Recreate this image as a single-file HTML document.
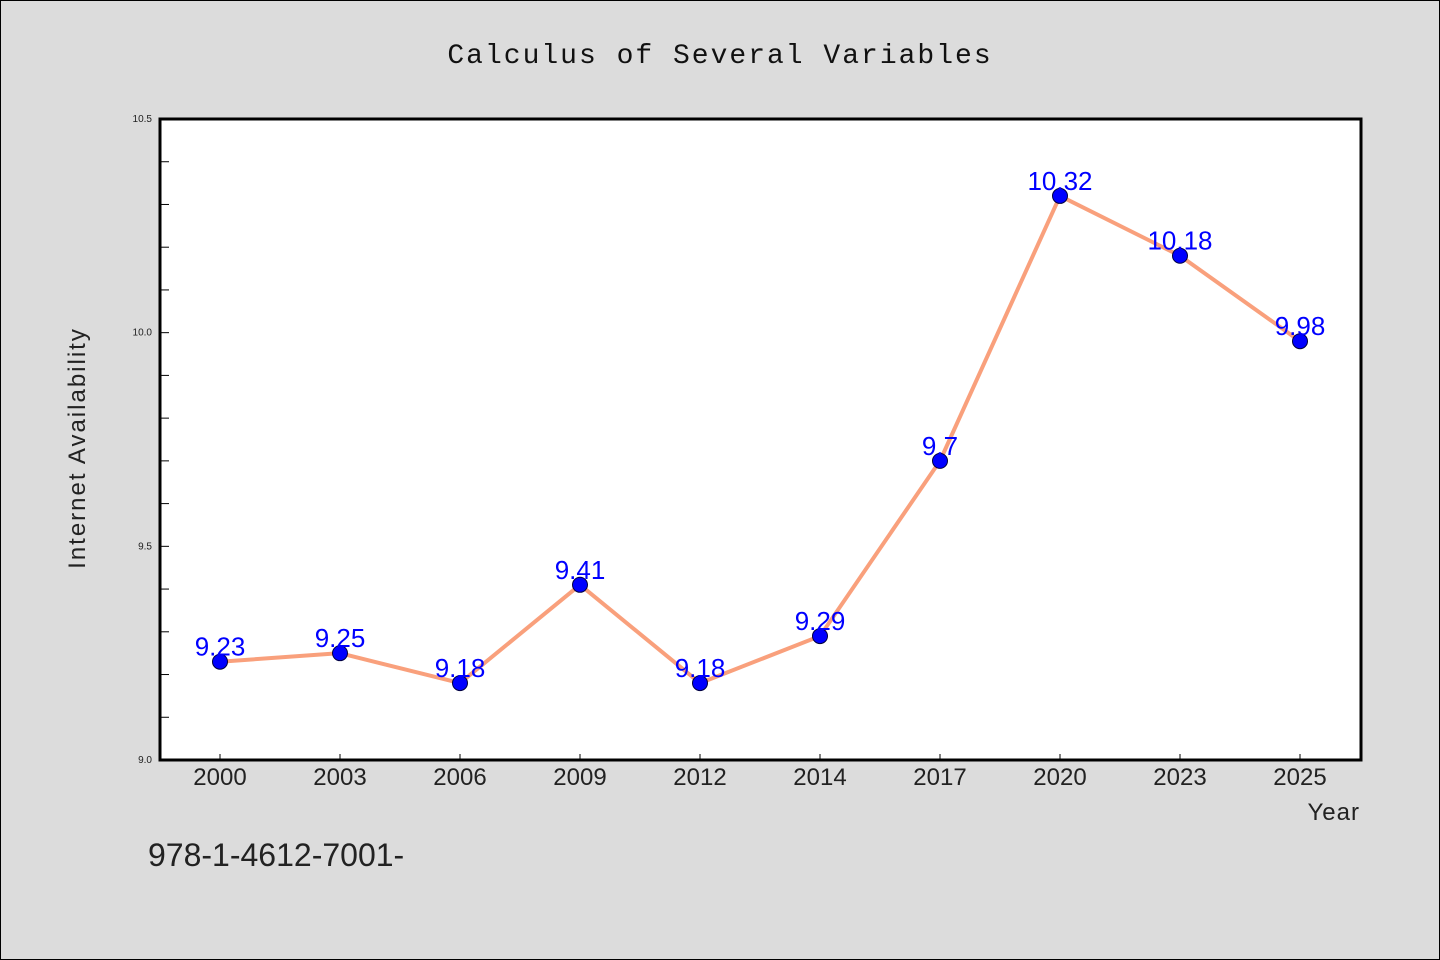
<!DOCTYPE html>
<html><head><meta charset="utf-8"><style>
body{margin:0;background:#dcdcdc;}
svg{display:block;font-family:"Liberation Sans","WenQuanYi Zen Hei",sans-serif;}
</style></head><body>
<svg width="1440" height="960">
<rect x="0.5" y="0.5" width="1439" height="959" fill="#dcdcdc" stroke="#000"/>
<text x="720" y="63" text-anchor="middle" font-size="28" letter-spacing="2" fill="#111" font-family="'Liberation Mono',monospace">Calculus of Several Variables</text>
<rect x="160" y="119" width="1201" height="641" fill="#fff"/>
<g id="yticks"></g><g id="xticks"></g>
<rect x="160" y="119" width="1201" height="641" fill="none" stroke="#000" stroke-width="3"/>
<polyline id="line" fill="none" stroke="#f9a07c" stroke-width="4" stroke-linejoin="round"/>
<g id="marks"></g>
<text transform="translate(85,448) rotate(-90)" text-anchor="middle" font-size="24" letter-spacing="2" fill="#222">Internet Availability</text>
<text x="1360" y="820" text-anchor="end" font-size="24" letter-spacing="1" fill="#222">Year</text>
<text x="148" y="866" font-size="32" fill="#222">978-1-4612-7001-</text>
</svg>
<script>
const categories=["2000","2003","2006","2009","2012","2014","2017","2020","2023","2025"];
const values=[9.23,9.25,9.18,9.41,9.18,9.29,9.7,10.32,10.18,9.98];
const yTickLabels=["9.0","9.5","10.0","10.5"];
const ns="http://www.w3.org/2000/svg";
const X0=160,X1=1360,Y0=760,Y1=119,YMIN=9,YMAX=10.5;
const xs=i=>X0+(X1-X0)/categories.length*(i+0.5);
const ys=v=>Y0-(v-YMIN)/(YMAX-YMIN)*(Y0-Y1);
function mk(t,a,p){const e=document.createElementNS(ns,t);for(const k in a)e.setAttribute(k,a[k]);p.appendChild(e);return e;}
const yt=document.getElementById('yticks');
for(let k=0;k<=15;k++){const v=YMIN+k*0.1;const y=ys(v);
 const l=mk('line',{x1:160,x2:169,y1:y,y2:y,stroke:'#000','stroke-width':1},yt);
 
 }
yTickLabels.forEach(s=>{const t=mk('text',{x:152,y:ys(+s)+3,'text-anchor':'end','font-size':10,fill:'#222'},yt);t.textContent=s;
 
 });
const xt=document.getElementById('xticks');
categories.forEach((c,i)=>{const x=xs(i);
 const l=mk('line',{x1:x,x2:x,y1:754,y2:760,stroke:'#000','stroke-width':1},xt);
 
 
 const t=mk('text',{x:x,y:785,'text-anchor':'middle','font-size':24,fill:'#222'},xt);t.textContent=c;
 
 });
document.getElementById('line').setAttribute('points',values.map((v,i)=>xs(i)+','+ys(v)).join(' '));
const g=document.getElementById('marks');
values.forEach((v,i)=>{const c=mk('circle',{cx:xs(i),cy:ys(v),r:7.5,fill:'#0000ff',stroke:'#000040','stroke-width':1},g);
 
 
 const t=mk('text',{x:xs(i),y:ys(v)-6,'text-anchor':'middle','font-size':26,fill:'#0000ff'},g);t.textContent=String(v);
 
 });
</script>
</body></html>
